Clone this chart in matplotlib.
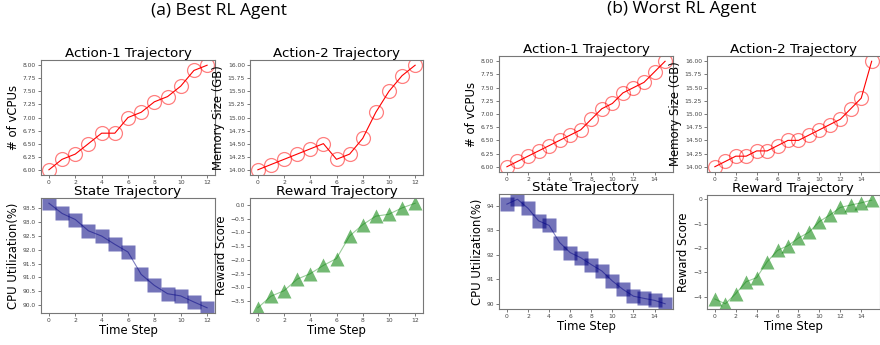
import matplotlib.pyplot as plt

# (a) best agent, 13 steps
best_steps = list(range(13))
best_vcpu = [6.0, 6.2, 6.3, 6.5, 6.7, 6.7, 7.0, 7.1, 7.3, 7.4, 7.6, 7.9, 8.0]
best_mem = [14.0, 14.1, 14.2, 14.3, 14.4, 14.5, 14.2, 14.3, 14.6, 15.1,
            15.5, 15.8, 16.0]
best_cpu = [93.69, 93.32, 93.1, 92.69, 92.5, 92.2, 91.92, 91.11, 90.71,
            90.41, 90.33, 90.11, 89.9]
best_reward = [-3.74, -3.32, -3.12, -2.7, -2.5, -2.2, -1.95, -1.13, -0.72,
               -0.41, -0.34, -0.11, 0.06]

# (b) worst agent, 16 steps
worst_steps = list(range(16))
worst_vcpu = [6.0, 6.1, 6.2, 6.3, 6.4, 6.5, 6.6, 6.7, 6.9, 7.1, 7.2, 7.4,
              7.5, 7.6, 7.8, 8.0]
worst_mem = [14.0, 14.1, 14.2, 14.2, 14.3, 14.3, 14.4, 14.5, 14.5, 14.6,
             14.7, 14.8, 14.9, 15.1, 15.3, 16.0]
worst_cpu = [94.07, 94.27, 93.9, 93.39, 93.2, 92.5, 92.09, 91.88, 91.6,
             91.34, 90.93, 90.59, 90.31, 90.22, 90.14, 90.0]
worst_reward = [-4.1, -4.3, -3.88, -3.39, -3.22, -2.57, -2.1, -1.9, -1.59,
                -1.35, -0.91, -0.64, -0.33, -0.23, -0.14, -0.03]

W, H = 880, 345
fig = plt.figure(figsize=(W / 100, H / 100), dpi=100)


def box(x0, y0, x1, y1):
    # pixel box (top-left origin) -> figure fraction
    return [x0 / W, 1 - y1 / H, (x1 - x0) / W, (y1 - y0) / H]


def style(ax, title, ylabel, xlabel=None, xticks=None):
    ax.set_title(title, fontsize=9.7, pad=2)
    ax.set_ylabel(ylabel, fontsize=8.4, labelpad=2)
    if xlabel:
        ax.set_xlabel(xlabel, fontsize=8.4, labelpad=1)
    ax.set_xticks(xticks)
    ax.tick_params(labelsize=4.3, length=2, width=0.5, pad=1.5,
                   colors="#444444")
    for s in ax.spines.values():
        s.set_color("#777777")
        s.set_linewidth(0.8)


def circles(ax, x, y):
    ax.plot(x, y, color="red", lw=0.8)
    ax.plot(x, y, "o", ms=10, mfc="none", mec="red", mew=0.9, alpha=0.5)


def squares(ax, x, y):
    ax.plot(x, y, color="navy", lw=0.8, alpha=0.5)
    ax.plot(x, y, "s", ms=9.5, color="navy", alpha=0.55, mec="none")


def triangles(ax, x, y):
    ax.plot(x, y, color="green", lw=0.8, alpha=0.4)
    ax.plot(x, y, "^", ms=10, color="green", alpha=0.55, mec="none")


groups = [
    (best_steps, best_vcpu, best_mem, best_cpu, best_reward,
     [(41, 60, 215, 175), (250, 60, 423, 175),
      (41, 198, 215, 313), (250, 198, 423, 313)], list(range(0, 13, 2))),
    (worst_steps, worst_vcpu, worst_mem, worst_cpu, worst_reward,
     [(499, 56, 673, 172), (707, 56, 879.5, 172),
      (499, 194, 673, 309), (707, 195, 879.5, 309)], list(range(0, 15, 2))),
]

for steps, vcpu, mem, cpu, reward, boxes, xt in groups:
    a1 = fig.add_axes(box(*boxes[0]))
    circles(a1, steps, vcpu)
    style(a1, "Action-1 Trajectory", "# of vCPUs", xticks=xt)

    a2 = fig.add_axes(box(*boxes[1]))
    circles(a2, steps, mem)
    style(a2, "Action-2 Trajectory", "Memory Size (GB)", xticks=xt)

    a3 = fig.add_axes(box(*boxes[2]))
    squares(a3, steps, cpu)
    style(a3, "State Trajectory", "CPU Utilization(%)", "Time Step", xt)

    a4 = fig.add_axes(box(*boxes[3]))
    triangles(a4, steps, reward)
    style(a4, "Reward Trajectory", "Reward Score", "Time Step", xt)

fig.text(219 / W, 1 - 11 / H, "(a) Best RL Agent", fontsize=12.5,
         family="Open Sans", ha="center", va="center")
fig.text(682 / W, 1 - 9 / H, "(b) Worst RL Agent", fontsize=12.5,
         family="Open Sans", ha="center", va="center")

fig.savefig("out.png", dpi=100)
